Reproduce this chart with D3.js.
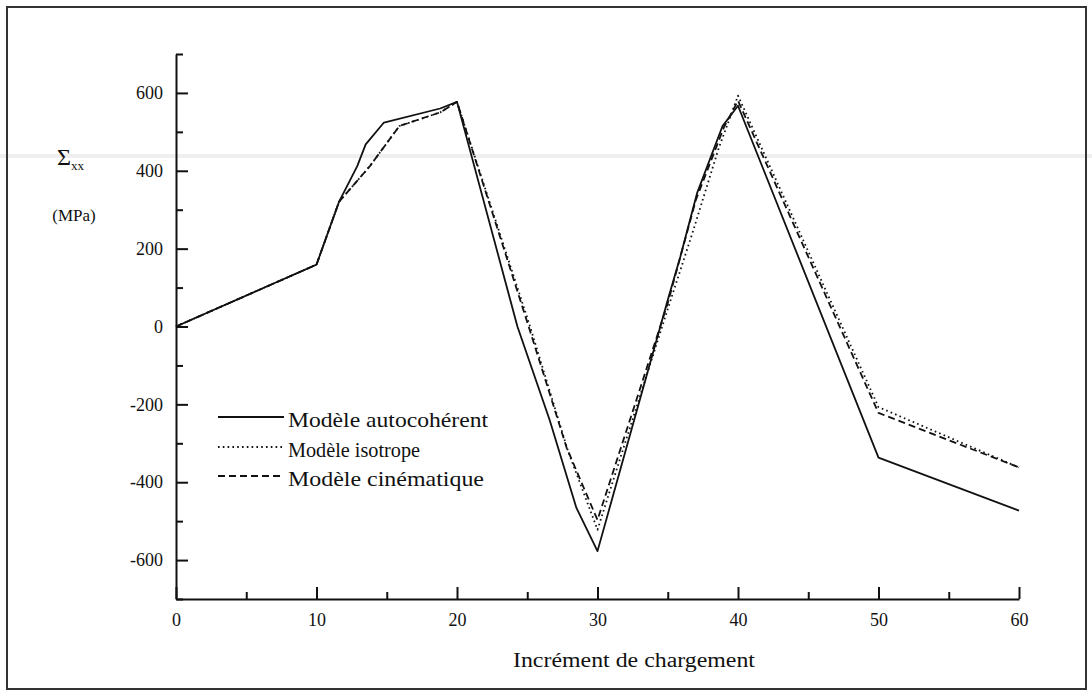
<!DOCTYPE html>
<html>
<head>
<meta charset="utf-8">
<script src="https://cdn.jsdelivr.net/npm/d3@7"></script>
<style>
  html, body { margin: 0; padding: 0; background: #fff; }
  svg text { font-family: "Liberation Serif", "Times New Roman", Times, Tinos, "Nimbus Roman", serif; fill: #111; }
</style>
</head>
<body>
<svg id="chart" width="1092" height="694"></svg>
<script>
// ---- data ----
const xTickValues = [0, 10, 20, 30, 40, 50, 60];
const yTickValues = [-600, -400, -200, 0, 200, 400, 600];

const autoX = [0, 10, 11.6, 12.9, 13.5, 14.8, 18.8, 20, 24.3, 26.6, 28.5, 30, 35, 35.9, 37.1, 38.9, 40, 50, 60];
const autoY = [0, 159, 320, 412, 468, 524, 560, 577, 0, -241, -466, -577, 68, 180, 344, 515, 567, -337, -473];

const isoX = [0, 10, 11.6, 13.8, 15.9, 18.8, 20, 25.2, 27.9, 30, 35, 36.8, 38.6, 40, 50, 60];
const isoY = [0, 159, 320, 412, 515, 550, 577, 0, -320, -522, 45, 245, 455, 593, -207, -362];

const cinX = [0, 10, 11.6, 13.8, 15.9, 18.8, 20, 25.1, 27.8, 30, 35, 37, 39, 40, 50, 60];
const cinY = [0, 159, 320, 412, 515, 550, 577, 0, -311, -497, 60, 325, 512, 580, -222, -362];

const legendLabels = ["Modèle autocohérent", "Modèle isotrope", "Modèle cinématique"];

// ---- layout ----
const FONT = '"Liberation Serif", "Times New Roman", Times, Tinos, "Nimbus Roman", serif';
const svg = d3.select("#chart");
const x = d3.scaleLinear().domain([0, 60]).range([176, 1019]);
const y = d3.scaleLinear().domain([-700, 700]).range([599, 54]);

// frame
svg.append("rect").attr("x", 0).attr("y", 0).attr("width", 1092).attr("height", 694).attr("fill", "#fff");
svg.append("line").attr("x1", 0).attr("x2", 1092).attr("y1", 156).attr("y2", 156)
  .attr("stroke", "#efefef").attr("stroke-width", 4);
svg.append("rect").attr("x", 7).attr("y", 7).attr("width", 1079).attr("height", 682)
  .attr("fill", "none").attr("stroke", "#333").attr("stroke-width", 2);

// axes
const yMinor = d3.range(-700, 701, 200);
const xMinor = d3.range(5, 60, 10);
const fmt = d => String(d);

const yAxis = d3.axisLeft(y).tickValues(yTickValues).tickSizeInner(-12).tickSizeOuter(0)
  .tickPadding(13).tickFormat(fmt);
svg.append("g").attr("transform", "translate(176,0)").call(yAxis);
svg.append("g").attr("transform", "translate(176,0)")
  .call(d3.axisLeft(y).tickValues(yMinor).tickSizeInner(-7).tickSizeOuter(0).tickFormat(""))
  .select(".domain").remove();

const xAxis = d3.axisBottom(x).tickValues(xTickValues).tickSizeInner(-12).tickSizeOuter(0)
  .tickPadding(14).tickFormat(fmt);
svg.append("g").attr("transform", "translate(0,599)").call(xAxis);
svg.append("g").attr("transform", "translate(0,599)")
  .call(d3.axisBottom(x).tickValues(xMinor).tickSizeInner(-7).tickSizeOuter(0).tickFormat(""))
  .select(".domain").remove();

svg.selectAll("g").attr("font-family", FONT);
svg.selectAll(".domain").attr("stroke", "#111").attr("stroke-width", 2);
svg.selectAll(".tick line").attr("stroke", "#111").attr("stroke-width", 2);
svg.selectAll(".tick text").attr("font-size", 18).attr("fill", "#111");

// axis labels
const sig = svg.append("text").attr("x", 57).attr("y", 165).attr("font-size", 24);
sig.append("tspan").text("Σ");
sig.append("tspan").attr("font-size", 13).attr("dy", 5).text("xx");
svg.append("text").attr("x", 74).attr("y", 221).attr("text-anchor", "middle")
  .attr("font-size", 17).text("(MPa)");
svg.append("text").attr("x", 513).attr("y", 667).attr("font-size", 20)
  .attr("textLength", 242).attr("lengthAdjust", "spacingAndGlyphs")
  .text("Incrément de chargement");

// series
const series = [
  { xs: autoX, ys: autoY, dash: null },
  { xs: isoX, ys: isoY, dash: "1.6,3.2" },
  { xs: cinX, ys: cinY, dash: "7,4" }
];
const line = d3.line().x(d => x(d[0])).y(d => y(d[1]));
series.forEach(s => {
  const pts = s.xs.map((v, i) => [v, s.ys[i]]);
  const p = svg.append("path").datum(pts).attr("d", line)
    .attr("fill", "none").attr("stroke", "#111").attr("stroke-width", 1.8)
    .attr("stroke-linejoin", "round");
  if (s.dash) p.attr("stroke-dasharray", s.dash);
});

// legend
const legendY = [417, 447, 476];
const legendW = [200, 132, 196];
series.forEach((s, i) => {
  const l = svg.append("line").attr("x1", 218).attr("x2", 284)
    .attr("y1", legendY[i]).attr("y2", legendY[i])
    .attr("stroke", "#111").attr("stroke-width", 1.8);
  if (s.dash) l.attr("stroke-dasharray", s.dash);
  svg.append("text").attr("x", 288).attr("y", legendY[i] + 10).attr("font-size", 21)
    .attr("textLength", legendW[i]).attr("lengthAdjust", "spacingAndGlyphs")
    .attr("fill", i === 2 ? "#2a2a40" : "#111")
    .text(legendLabels[i]);
});
</script>
</body>
</html>
